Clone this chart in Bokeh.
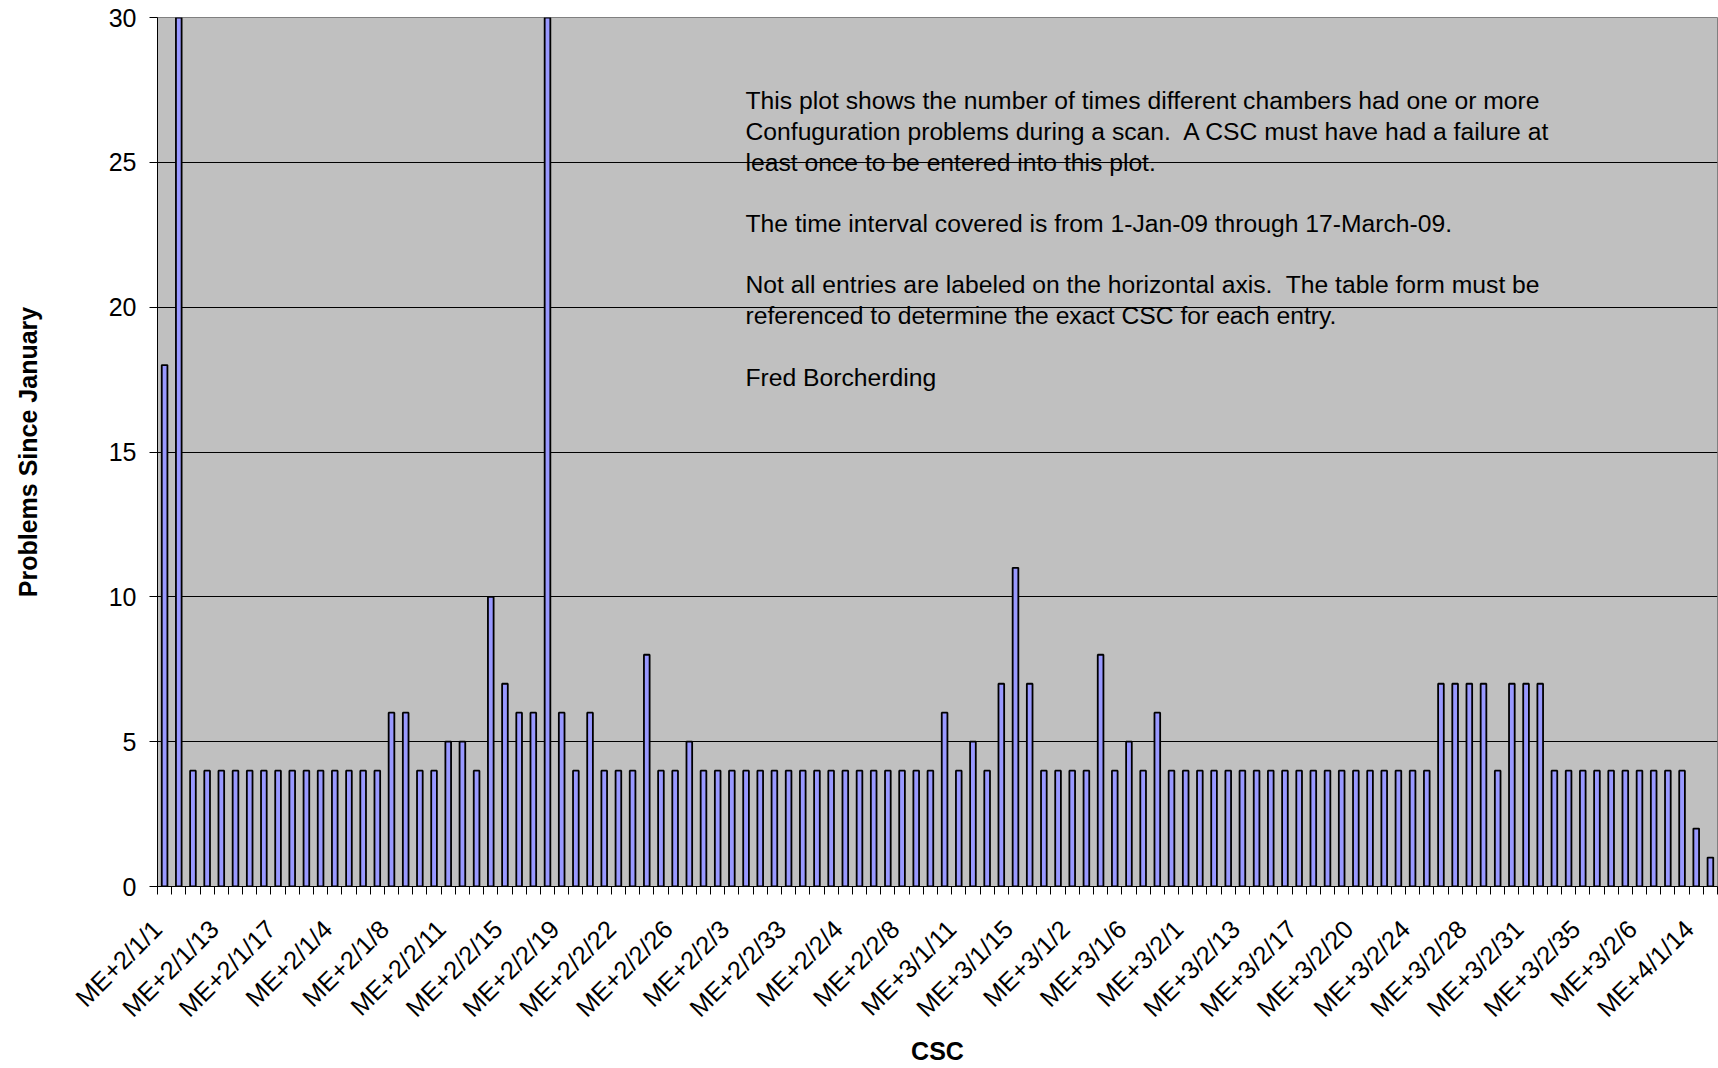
import math
import numpy as np
from bokeh.plotting import figure
from bokeh.models import Range1d, FixedTicker, Label
from bokeh.embed import file_html
from bokeh.resources import INLINE

# ---- data ----
problems = [
    18, 31, 4, 4, 4, 4, 4, 4, 4, 4, 4, 4, 4, 4, 4, 4,
    6, 6, 4, 4, 5, 5, 4, 10, 7, 6, 6, 31, 6, 4, 6, 4, 4, 4, 8, 4, 4, 5,
    4, 4, 4, 4, 4, 4, 4, 4, 4, 4, 4, 4, 4, 4, 4, 4, 4,
    6, 4, 5, 4, 7, 11, 7, 4, 4, 4, 4, 8, 4, 5, 4, 6,
    4, 4, 4, 4, 4, 4, 4, 4, 4, 4, 4, 4, 4, 4, 4, 4, 4, 4, 4,
    7, 7, 7, 7, 4, 7, 7, 7,
    4, 4, 4, 4, 4, 4, 4, 4, 4, 4,
    2, 1,
]

tick_labels = [
    "ME+2/1/1", "ME+2/1/13", "ME+2/1/17", "ME+2/1/4", "ME+2/1/8",
    "ME+2/2/11", "ME+2/2/15", "ME+2/2/19", "ME+2/2/22", "ME+2/2/26",
    "ME+2/2/3", "ME+2/2/33", "ME+2/2/4", "ME+2/2/8", "ME+3/1/11",
    "ME+3/1/15", "ME+3/1/2", "ME+3/1/6", "ME+3/2/1", "ME+3/2/13",
    "ME+3/2/17", "ME+3/2/20", "ME+3/2/24", "ME+3/2/28", "ME+3/2/31",
    "ME+3/2/35", "ME+3/2/6", "ME+4/1/14",
]
label_every = 4

y_ticks = [0, 5, 10, 15, 20, 25, 30]
grid_lines = [5, 10, 15, 20, 25]

note_lines = [
    "This plot shows the number of times different chambers had one or more",
    "Confuguration problems during a scan.\u00a0 A CSC must have had a failure at",
    "least once to be entered into this plot.",
    "",
    "The time interval covered is from 1-Jan-09 through 17-March-09.",
    "",
    "Not all entries are labeled on the horizontal axis.\u00a0 The table form must be",
    "referenced to determine the exact CSC for each entry.",
    "",
    "Fred Borcherding",
]

# ---- figure ----
FONT = "Liberation Sans"
n = len(problems)
xpos = np.arange(n)

p = figure(
    width=1718, height=1068,
    x_range=Range1d(-0.5, n - 0.5), y_range=Range1d(0, 30),
    output_backend="svg", toolbar_location=None,
    min_border_left=157, min_border_right=1,
    min_border_top=17, min_border_bottom=181,
    background_fill_color="#C0C0C0", border_fill_color="white",
    outline_line_color="#808080", outline_line_width=1,
)

p.vbar(x=xpos, top=problems, width=0.4, bottom=0,
       fill_color="#9999FF", line_color="black", line_width=1.8)

# x axis: boundary ticks drawn as minor ticks; every 4th category labelled.
# Label anchors sit on the category's left boundary so the rotated text
# ends just before its bar.
label_shift = 0.5
label_pos = [i - label_shift for i in range(0, n, label_every)]
boundaries = [i - 0.5 for i in range(n + 1)]
xa = p.xaxis[0]
xa.ticker = FixedTicker(ticks=label_pos, minor_ticks=boundaries)
xa.major_label_overrides = {pos: lab for pos, lab in zip(label_pos, tick_labels)}
xa.major_label_orientation = math.pi / 4
xa.major_tick_line_color = None
xa.major_tick_out = 0
xa.major_tick_in = 0
xa.minor_tick_out = 8
xa.minor_tick_in = 0
xa.minor_tick_line_color = "black"
xa.axis_line_color = "black"
xa.major_label_standoff = 30
xa.major_label_text_font = FONT
xa.major_label_text_font_size = "25.5px"
xa.major_label_text_color = "black"
xa.axis_label = "CSC"
xa.axis_label_text_font = FONT
xa.axis_label_text_font_size = "25px"
xa.axis_label_text_font_style = "bold"
xa.axis_label_text_color = "black"
xa.axis_label_standoff = 2

ya = p.yaxis[0]
ya.ticker = FixedTicker(ticks=y_ticks)
ya.major_tick_out = 8
ya.major_tick_in = 0
ya.minor_tick_line_color = None
ya.major_tick_line_color = "black"
ya.axis_line_color = "black"
ya.major_label_standoff = 13
ya.major_label_text_font = FONT
ya.major_label_text_font_size = "25px"
ya.major_label_text_color = "black"
ya.axis_label = "Problems Since January"
ya.axis_label_text_font = FONT
ya.axis_label_text_font_size = "25px"
ya.axis_label_text_font_style = "bold"
ya.axis_label_text_color = "black"
ya.axis_label_standoff = 64

p.xgrid.grid_line_color = None
p.ygrid.ticker = FixedTicker(ticks=grid_lines)
p.ygrid.grid_line_color = "black"
p.ygrid.grid_line_width = 1

# text block inside the plot area
note_x = 40.96
note_y0 = 27.12
note_step = 1.059
for i, line in enumerate(note_lines):
    if not line:
        continue
    p.add_layout(Label(
        x=note_x, y=note_y0 - i * note_step, text=line,
        text_font=FONT, text_font_size="24.7px", text_color="black",
        text_baseline="alphabetic", text_align="left",
    ))

open("out.html", "w").write(file_html(p, INLINE))
